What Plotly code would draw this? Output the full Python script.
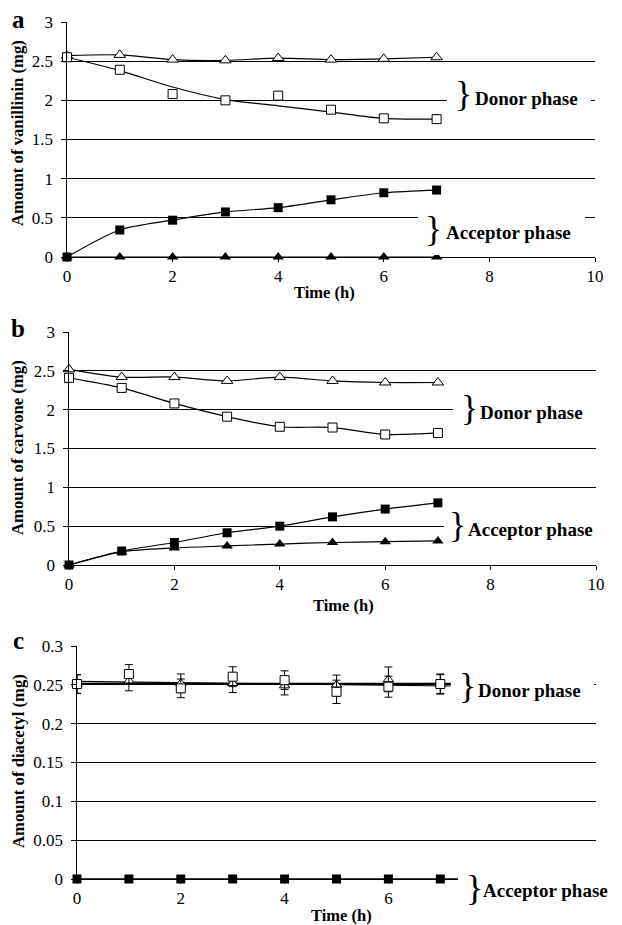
import plotly.graph_objects as go

# ---------------- data ----------------
time = [0, 1, 2, 3, 4, 5, 6, 7]

# (a) vanillin
van_donor_tri = [2.57, 2.58, 2.52, 2.51, 2.54, 2.52, 2.53, 2.55]
van_donor_sq = [2.55, 2.39, 2.08, 2.00, 2.06, 1.88, 1.77, 1.76]
van_donor_sq_trend = [2.55, 2.38, 2.17, 2.01, 1.93, 1.85, 1.77, 1.76]
van_acc_sq = [0.0, 0.345, 0.47, 0.575, 0.63, 0.73, 0.82, 0.855]
van_acc_tri = [0.0, 0.0, 0.0, 0.0, 0.0, 0.0, 0.0, 0.0]

# (b) carvone
car_donor_tri = [2.52, 2.42, 2.42, 2.37, 2.42, 2.37, 2.35, 2.35]
car_donor_sq = [2.41, 2.28, 2.08, 1.91, 1.78, 1.77, 1.68, 1.70]
car_acc_sq = [0.0, 0.18, 0.29, 0.415, 0.50, 0.62, 0.72, 0.80]
car_acc_tri = [0.0, 0.17, 0.22, 0.245, 0.27, 0.29, 0.30, 0.31]

# (c) diacetyl
dia_donor_sq = [0.251, 0.264, 0.2455, 0.2605, 0.256, 0.241, 0.2476, 0.251]
dia_donor_sq_err = [0.012, 0.012, 0.012, 0.0128, 0.012, 0.015, 0.0135, 0.012]
dia_donor_tri = [0.251, 0.2553, 0.252, 0.252, 0.249, 0.250, 0.257, 0.251]
dia_donor_tri_err = [0.012, 0.013, 0.012, 0.012, 0.012, 0.0125, 0.016, 0.013]
dia_acc_sq = [0.0, 0.0, 0.0, 0.0, 0.0, 0.0, 0.0, 0.0]
dia_trend_time = [0, 7.2]
dia_sq_trend = [0.2545, 0.2485]
dia_tri_trend = [0.2520, 0.2520]
dia_acc_trend_time = [0, 7.4]
dia_acc_trend = [0.0, 0.0]

x_ticks_ab = [0, 2, 4, 6, 8, 10]
x_ticks_c = [0, 2, 4, 6]

# ---------------- layout helpers ----------------
W, H = 622, 925
SERIF = "Liberation Serif"


def px(p):
    return p / W


def py(p):
    return 1 - p / H


fig = go.Figure()

BLACK = "black"
open_sq = dict(symbol="square", size=9, color="white", line=dict(color=BLACK, width=1))
open_tri = dict(symbol="triangle-up", size=10, color="white", line=dict(color=BLACK, width=1))
fill_sq = dict(symbol="square", size=9, color=BLACK, line=dict(color=BLACK, width=0))
fill_tri = dict(symbol="triangle-up", size=10, color=BLACK, line=dict(color=BLACK, width=0))
LINE = dict(color=BLACK, width=1.2, shape="spline", smoothing=0.8)
LINE_STRAIGHT = dict(color=BLACK, width=1.2)


def add_line(x, y, ax, line=LINE):
    fig.add_trace(go.Scatter(x=x, y=y, mode="lines", line=line, xaxis=ax[0], yaxis=ax[1],
                             showlegend=False, hoverinfo="skip", cliponaxis=False))


def add_markers(x, y, marker, ax, err=None):
    kw = {}
    if err is not None:
        kw["error_y"] = dict(type="data", array=err, visible=True, color=BLACK, thickness=1, width=4)
    fig.add_trace(go.Scatter(x=x, y=y, mode="markers", marker=marker, xaxis=ax[0], yaxis=ax[1],
                             showlegend=False, cliponaxis=False, **kw))


A = ("x", "y")
B = ("x2", "y2")
C = ("x3", "y3")

# panel a
add_line(time, van_donor_tri, A)
add_line(time, van_donor_sq_trend, A)
add_line(time, van_acc_sq, A)
add_line(time, van_acc_tri, A, LINE_STRAIGHT)
add_markers(time, van_donor_tri, open_tri, A)
add_markers(time, van_donor_sq, open_sq, A)
add_markers(time, van_acc_sq, fill_sq, A)
add_markers(time, van_acc_tri, fill_tri, A)

# panel b
add_line(time, car_donor_tri, B)
add_line(time, car_donor_sq, B)
add_line(time, car_acc_sq, B)
add_line(time, car_acc_tri, B)
add_markers(time, car_donor_tri, open_tri, B)
add_markers(time, car_donor_sq, open_sq, B)
add_markers(time, car_acc_sq, fill_sq, B)
add_markers(time, car_acc_tri, fill_tri, B)

# panel c
add_line(dia_trend_time, dia_sq_trend, C, LINE_STRAIGHT)
add_line(dia_trend_time, dia_tri_trend, C, LINE_STRAIGHT)
add_line(dia_acc_trend_time, dia_acc_trend, C, dict(color=BLACK, width=1.5))
add_markers(time, dia_donor_tri, dict(open_tri, size=9), C, dia_donor_tri_err)
add_markers(time, dia_donor_sq, open_sq, C, dia_donor_sq_err)
add_markers(time, dia_acc_sq, fill_sq, C)

tickfont = dict(family=SERIF, size=17, color=BLACK)

xcommon = dict(range=[0, 10], showline=True, linecolor=BLACK, linewidth=1, ticks="outside",
               ticklen=4, tickcolor=BLACK, showgrid=False, zeroline=False, tickfont=tickfont,
               fixedrange=True, automargin=False)
ycommon = dict(showline=True, linecolor=BLACK, linewidth=1.5, ticks="outside", ticklen=5,
               tickcolor=BLACK, showgrid=True, gridcolor=BLACK, gridwidth=1, zeroline=False,
               tickfont=tickfont, fixedrange=True, ticklabelstandoff=4, automargin=False)

fig.update_layout(
    width=W, height=H, autosize=False,
    margin=dict(l=0, r=0, t=0, b=0, pad=0),
    paper_bgcolor="white", plot_bgcolor="white",
    font=dict(family=SERIF, color=BLACK),
    showlegend=False,
    xaxis=dict(xcommon, domain=[px(67), px(595)], anchor="y", tickvals=x_ticks_ab),
    yaxis=dict(ycommon, domain=[py(257), py(22)], anchor="x", range=[0, 3], dtick=0.5),
    xaxis2=dict(xcommon, domain=[px(69), px(596)], anchor="y2", tickvals=x_ticks_ab),
    yaxis2=dict(ycommon, domain=[py(565), py(332)], anchor="x2", range=[0, 3], dtick=0.5),
    xaxis3=dict(xcommon, domain=[px(77), px(596)], anchor="y3", tickvals=x_ticks_c),
    yaxis3=dict(ycommon, domain=[py(879), py(646)], anchor="x3", range=[0, 0.3], dtick=0.05),
)

# white boxes behind the phase labels
boxes = [
    (447, 75, 591, 115),
    (418, 208, 585, 255),
    (453, 388, 622, 430),
    (444, 510, 622, 549),
    (451, 665, 594, 708),
    (458, 866, 622, 912),
]
for x0, y0, x1, y1 in boxes:
    fig.add_shape(type="rect", xref="paper", yref="paper", x0=px(x0), x1=px(x1),
                  y0=py(y1), y1=py(y0), fillcolor="white", line=dict(width=0), layer="above")

ann = []


def text(x, y, s, size, bold=True, xanchor="center", angle=0):
    ann.append(dict(x=px(x), y=py(y), xref="paper", yref="paper", text=(f"<b>{s}</b>" if bold else s),
                    showarrow=False, xanchor=xanchor, yanchor="middle", textangle=angle,
                    font=dict(family=SERIF, size=size, color=BLACK)))


# panel letters
text(18, 19, "a", 25)
text(18, 329, "b", 25)
text(18, 640, "c", 25)

# y titles
text(18, 133, "Amount of vanillinin (mg)", 16.7, angle=-90)
text(18, 448, "Amount of carvone (mg)", 16.7, angle=-90)
text(18, 761, "Amount of diacetyl (mg)", 16.7, angle=-90)

# x titles
text(324, 292, "Time (h)", 16.5)
text(343, 605, "Time (h)", 16.5)
text(342, 915, "Time (h)", 16.5)

# braces and phase labels
braces = [(463, 94), (433, 229), (469, 408), (457, 525), (467, 686), (474, 888)]
for bx, by in braces:
    text(bx, by, "}", 36, bold=False)

text(473, 98, "Donor phase", 19, xanchor="left")
text(444, 233, "Acceptor phase", 19, xanchor="left")
text(478, 412, "Donor phase", 19, xanchor="left")
text(466, 529, "Acceptor phase", 19, xanchor="left")
text(476, 690, "Donor phase", 19, xanchor="left")
text(481, 890, "Acceptor phase", 19, xanchor="left")

fig.update_layout(annotations=ann)

fig.write_html(
    "out.html",
    config={"displayModeBar": False, "staticPlot": True},
    post_script="document.body.style.margin='0';document.body.style.padding='0';"
                "document.documentElement.style.overflow='hidden';",
)
